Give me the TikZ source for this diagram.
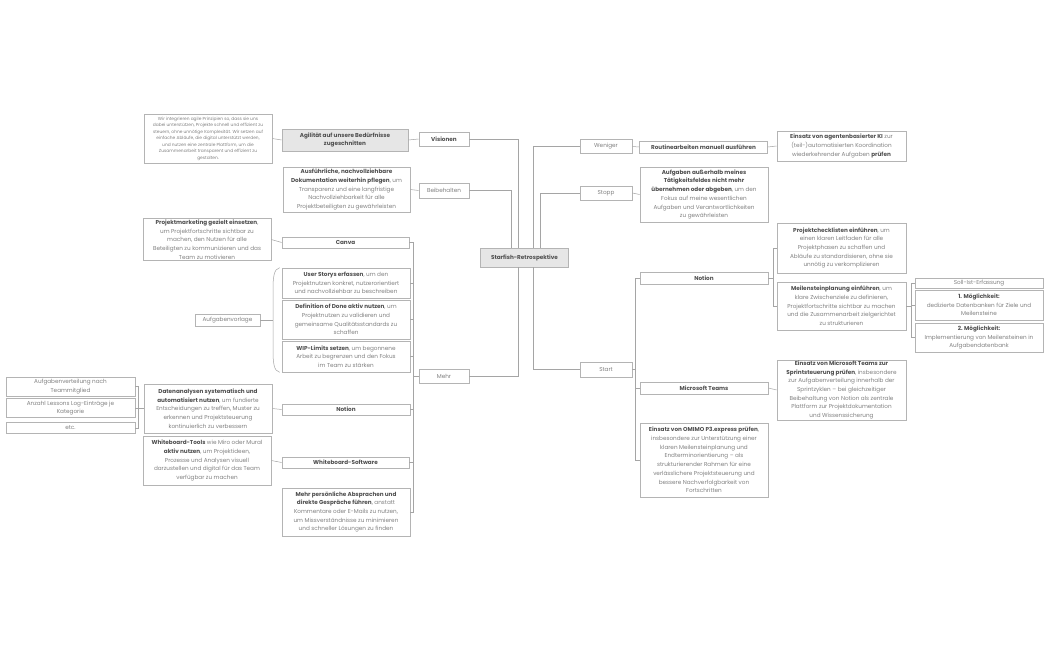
\documentclass[tikz,border=0pt]{standalone}
\usepackage{fontspec}
\setmainfont{Poppins}
\usepackage{xcolor}
\definecolor{sfline}{RGB}{165,165,165}
\definecolor{sfborder}{RGB}{180,180,180}
\definecolor{sftext}{RGB}{130,130,130}
\definecolor{sfdark}{RGB}{80,80,80}
\definecolor{sffill}{RGB}{230,230,230}
\usepackage{tikz}
\usetikzlibrary{positioning}
\newcommand{\fett}[1]{\textcolor{sfdark}{\bfseries #1}}

\begin{document}
\begin{tikzpicture}[x=1pt, y=-1pt,
  every node/.style={font=\fontsize{5.7}{8.7}\selectfont, text=sftext, align=center, inner sep=1pt},
  topic/.style={draw=sfborder, line width=0.6pt, fill=white},
  keybox/.style={draw=sfborder, line width=0.6pt, fill=sffill},
  tinytext/.style={font=\fontsize{4.35}{6.5}\selectfont},
  link/.style={draw=sfline, line width=0.5pt}]

\useasboundingbox[fill=white] (0,0) rectangle (1050,650);

% Root
\node[keybox, minimum width=88pt, minimum height=19pt] (root) at (524.5,257.5) {\fett{Starfish-Retrospektive}};

% Main branches
\node[topic, minimum width=50pt, minimum height=14pt] (visionen) at (444,139) {\fett{Visionen}};
\node[topic, minimum width=50pt, minimum height=15pt] (beibehalten) at (444,190.5) {Beibehalten};
\node[topic, minimum width=50pt, minimum height=14pt] (mehr) at (444,376) {Mehr};
\node[topic, minimum width=52pt, minimum height=14pt] (weniger) at (606,146.5) {Weniger};
\node[topic, minimum width=52pt, minimum height=14pt] (stopp) at (606,193) {Stopp};
\node[topic, minimum width=52pt, minimum height=15pt] (start) at (606,369.5) {Start};

% Visionen
\node[keybox, minimum width=126pt, minimum height=22pt] (agil) at (345,140)
  {\fett{Agilität auf unsere Bedürfnisse}\\\fett{zugeschnitten}};
\node[topic, tinytext, minimum width=128pt, minimum height=49pt] (wirtext) at (208,138.5)
  {Wir integrieren agile Prinzipien so, dass sie uns\\dabei unterstützen, Projekte schnell und effizient zu\\steuern, ohne unnötige Komplexität. Wir setzen auf\\einfache Abläufe, die digital unterstützt werden,\\und nutzen eine zentrale Plattform, um die\\Zusammenarbeit transparent und effizient zu\\gestalten.};

% Beibehalten
\node[topic, minimum width=127pt, minimum height=45pt] (doku) at (346.5,189.5)
  {\fett{Ausführliche, nachvollziehbare}\\\fett{Dokumentation weiterhin pflegen}, um\\Transparenz und eine langfristige\\Nachvollziehbarkeit für alle\\Projektbeteiligten zu gewährleisten};

% Mehr
\node[topic, minimum width=127pt, minimum height=11pt] (canva) at (345.5,242.5) {\fett{Canva}};
\node[topic, minimum width=128pt, minimum height=41pt] (marketing) at (207,239.5)
  {\fett{Projektmarketing gezielt einsetzen},\\um Projektfortschritte sichtbar zu\\machen, den Nutzen für alle\\Beteiligten zu kommunizieren und das\\Team zu motivieren};
\node[topic, minimum width=128pt, minimum height=30pt] (userstory) at (346,283)
  {\fett{User Storys erfassen}, um den\\Projektnutzen konkret, nutzerorientiert\\und nachvollziehbar zu beschreiben};
\node[topic, minimum width=128pt, minimum height=39pt] (dod) at (346,319.5)
  {\fett{Definition of Done aktiv nutzen}, um\\Projektnutzen zu validieren und\\gemeinsame Qualitätsstandards zu\\schaffen};
\node[topic, minimum width=128pt, minimum height=31pt] (wip) at (346,356.5)
  {\fett{WIP-Limits setzen}, um begonnene\\Arbeit zu begrenzen und den Fokus\\im Team zu stärken};
\node[topic, minimum width=65pt, minimum height=12pt] (vorlage) at (227.5,320) {Aufgabenvorlage};
\node[topic, minimum width=128pt, minimum height=11pt] (notionL) at (346,409.5) {\fett{Notion}};
\node[topic, minimum width=128pt, minimum height=49pt] (daten) at (208,408.5)
  {\fett{Datenanalysen systematisch und}\\\fett{automatisiert nutzen}, um fundierte\\Entscheidungen zu treffen, Muster zu\\erkennen und Projektsteuerung\\kontinuierlich zu verbessern};
\node[topic, minimum width=129pt, minimum height=19pt] (verteilung) at (70.5,386.5) {Aufgabenverteilung nach\\Teammitglied};
\node[topic, minimum width=129pt, minimum height=19pt] (lessons) at (70.5,408) {Anzahl Lessons Log-Einträge je\\Kategorie};
\node[topic, minimum width=129pt, minimum height=11pt] (etc) at (70.5,428) {etc.};
\node[topic, minimum width=127pt, minimum height=11pt] (wbsoft) at (345.5,462.5) {\fett{Whiteboard-Software}};
\node[topic, minimum width=128pt, minimum height=49pt] (wbtools) at (207,460.5)
  {\fett{Whiteboard-Tools} wie Miro oder Mural\\\fett{aktiv nutzen}, um Projektideen,\\Prozesse und Analysen visuell\\darzustellen und digital für das Team\\verfügbar zu machen};
\node[topic, minimum width=128pt, minimum height=48pt] (persoenlich) at (346,512)
  {\fett{Mehr persönliche Absprachen und}\\\fett{direkte Gespräche führen}, anstatt\\Kommentare oder E-Mails zu nutzen,\\um Missverständnisse zu minimieren\\und schneller Lösungen zu finden};

% Weniger / Stopp
\node[topic, minimum width=128pt, minimum height=12pt] (routine) at (703.5,147) {\fett{Routinearbeiten manuell ausführen}};
\node[topic, minimum width=129pt, minimum height=30pt] (agentki) at (841.5,146)
  {\fett{Einsatz von agentenbasierter KI} zur\\(teil-)automatisierten Koordination\\wiederkehrender Aufgaben \fett{prüfen}};
\node[topic, minimum width=128pt, minimum height=55pt] (abgeben) at (704,194.5)
  {\fett{Aufgaben außerhalb meines}\\\fett{Tätigkeitsfeldes nicht mehr}\\\fett{übernehmen oder abgeben}, um den\\Fokus auf meine wesentlichen\\Aufgaben und Verantwortlichkeiten\\zu gewährleisten};

% Start
\node[topic, minimum width=128pt, minimum height=12pt] (notionR) at (704,278) {\fett{Notion}};
\node[topic, minimum width=129pt, minimum height=50pt] (checkliste) at (841.5,248)
  {\fett{Projektchecklisten einführen}, um\\einen klaren Leitfaden für alle\\Projektphasen zu schaffen und\\Abläufe zu standardisieren, ohne sie\\unnötig zu verkomplizieren};
\node[topic, minimum width=129pt, minimum height=48pt] (meilenstein) at (841.5,306)
  {\fett{Meilensteinplanung einführen}, um\\klare Zwischenziele zu definieren,\\Projektfortschritte sichtbar zu machen\\und die Zusammenarbeit zielgerichtet\\zu strukturieren};
\node[topic, minimum width=128pt, minimum height=10pt] (sollist) at (979,283) {Soll-Ist-Erfassung};
\node[topic, minimum width=128pt, minimum height=30pt] (moegl1) at (979,305)
  {\fett{1. Möglichkeit:}\\dedizierte Datenbanken für Ziele und\\Meilensteine};
\node[topic, minimum width=128pt, minimum height=29pt] (moegl2) at (979,337.5)
  {\fett{2. Möglichkeit:}\\Implementierung von Meilensteinen in\\Aufgabendatenbank};
\node[topic, minimum width=128pt, minimum height=12pt] (msteams) at (704,388) {\fett{Microsoft Teams}};
\node[topic, minimum width=129pt, minimum height=60pt] (teamsbox) at (841.5,390)
  {\fett{Einsatz von Microsoft Teams zur}\\\fett{Sprintsteuerung prüfen}, insbesondere\\zur Aufgabenverteilung innerhalb der\\Sprintzyklen -- bei gleichzeitiger\\Beibehaltung von Notion als zentrale\\Plattform zur Projektdokumentation\\und Wissenssicherung};
\node[topic, minimum width=128pt, minimum height=74pt] (omimo) at (704,460)
  {\fett{Einsatz von OMIMO P3.express prüfen},\\insbesondere zur Unterstützung einer\\klaren Meilensteinplanung und\\Endterminorientierung -- als\\strukturierender Rahmen für eine\\verlässlichere Projektsteuerung und\\bessere Nachverfolgbarkeit von\\Fortschritten};

% Connections from root
\draw[link] (visionen.east) -| ([xshift=-6.5pt]root.north);
\draw[link] (beibehalten.east) -| ([xshift=-13.5pt]root.north);
\draw[link] (mehr.east) -| ([xshift=-6.5pt]root.south);
\draw[link] (weniger.west) -| ([xshift=8.5pt]root.north);
\draw[link] (stopp.west) -| ([xshift=15.5pt]root.north);
\draw[link] (start.west) -| ([xshift=8.5pt]root.south);

% Left side
\draw[link] (visionen.west) -- (agil.east);
\draw[link] (agil.west) -- (wirtext.east);
\draw[link] (beibehalten.west) -- (doku.east);
\coordinate (mehrJ) at ([xshift=-5pt]mehr.west);
\draw[link] (mehr.west) -- (mehrJ);
\draw[link] (mehrJ) |- (canva.east);
\draw[link] (mehrJ) |- (userstory.east);
\draw[link] (mehrJ) |- (dod.east);
\draw[link] (mehrJ) |- (wip.east);
\draw[link] (mehrJ) |- (notionL.east);
\draw[link] (mehrJ) |- (wbsoft.east);
\draw[link] (mehrJ) |- (persoenlich.east);
\draw[link] (canva.west) -- (marketing.east);
\draw[link] (notionL.west) -- (daten.east);
\draw[link] (wbsoft.west) -- (wbtools.east);
\coordinate (datenJ) at ([xshift=-5pt]daten.west);
\draw[link] (daten.west) -- (datenJ);
\draw[link] (datenJ) |- (verteilung.east);
\draw[link] (datenJ) |- (lessons.east);
\draw[link] (datenJ) |- (etc.east);

% Summary bracket
\coordinate (braceTop) at ([xshift=-2pt]userstory.north west);
\coordinate (braceBot) at ([xshift=-2pt]wip.south west);
\coordinate (braceTip) at (273,320);
\draw[link] (braceTop) .. controls +(-6,1) and +(0,-12) .. (273,290) -- (273,350) .. controls +(0,12) and +(-6,-1) .. (braceBot);
\draw[link] (vorlage.east) -- (braceTip);

% Right side
\draw[link] (weniger.east) -- (routine.west);
\draw[link] (routine.east) -- (agentki.west);
\draw[link] (stopp.east) -- (abgeben.west);
\coordinate (startJ) at ([xshift=3pt]start.east);
\draw[link] (start.east) -- (startJ);
\draw[link] (startJ) |- (notionR.west);
\draw[link] (startJ) |- (msteams.west);
\draw[link] (startJ) |- (omimo.west);
\coordinate (notionJ) at ([xshift=4.5pt]notionR.east);
\draw[link] (notionR.east) -- (notionJ);
\draw[link] (notionJ) |- (checkliste.west);
\draw[link] (notionJ) |- (meilenstein.west);
\coordinate (meilJ) at ([xshift=4.5pt]meilenstein.east);
\draw[link] (meilenstein.east) -- (meilJ);
\draw[link] (meilJ) |- (sollist.west);
\draw[link] (meilJ) |- (moegl1.west);
\draw[link] (meilJ) |- (moegl2.west);
\draw[link] (msteams.east) -- (teamsbox.west);

\end{tikzpicture}
\end{document}
